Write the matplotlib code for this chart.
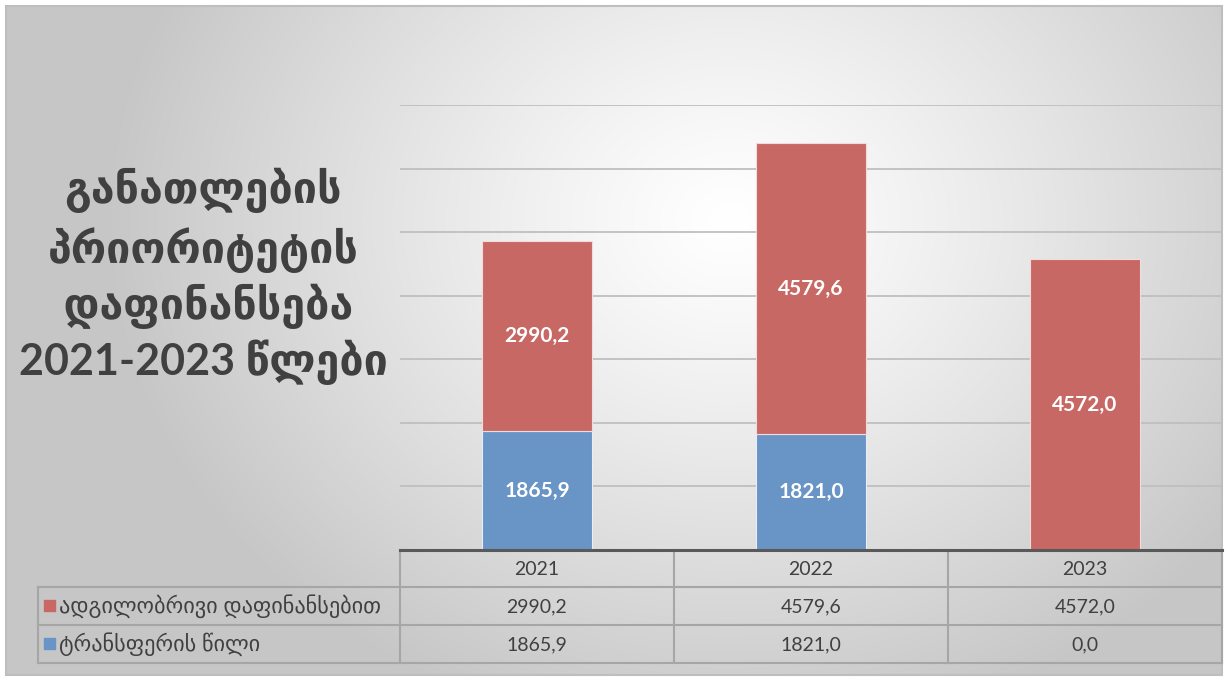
import numpy as np
import matplotlib
matplotlib.use("Agg")
import matplotlib.pyplot as plt
from matplotlib.patches import Rectangle

# ---- data ----
years = ["2021", "2022", "2023"]
local_funding = [2990.2, 4579.6, 4572.0]
transfer_share = [1865.9, 1821.0, 0.0]
series_names = ["ადგილობრივი დაფინანსებით", "ტრანსფერის წილი"]
title_lines = ["განათლების", "პრიორიტეტის", " დაფინანსება", "2021-2023 წლები"]

RED = "#C86864"
BLUE = "#6894C6"
TXT = "#404040"
FONT = ["Lato", "DejaVu Sans"]

def fmt(v):
    return f"{v:.1f}".replace(".", ",")

W, H = 1226, 679
fig = plt.figure(figsize=(W / 100, H / 100), dpi=100)
fig.patch.set_facecolor("white")

# background axes in pixel coordinates
bg = fig.add_axes([0, 0, 1, 1])
bg.set_xlim(0, W)
bg.set_ylim(H, 0)
bg.axis("off")

x0, x1, y0, y1 = 6, 1222, 6, 675
xx, yy = np.meshgrid(np.linspace(x0, x1, 600), np.linspace(y0, y1, 340))
cx, cy = 730, 220
d = np.sqrt(((xx - cx) / 620) ** 2 + ((yy - cy) / 520) ** 2)
val = 1.0 - 0.22 * np.clip(d, 0, 1) ** 1.2
img = np.dstack([val, val, val])
bg.imshow(img, extent=[x0, x1, y1, y0], aspect="auto", zorder=0, interpolation="bilinear")
bg.add_patch(Rectangle((x0, y0), x1 - x0, y1 - y0, fill=False, ec="#BEBEBE", lw=1.5, zorder=1))

# title
title_x = 203
title_ys = [190, 250, 306, 362]
for line, ty in zip(title_lines, title_ys):
    bg.text(title_x, ty, line, ha="center", va="center", fontsize=31, fontweight="bold",
            color=TXT, family=FONT, zorder=3)

# table geometry (pixels)
col_edges = [400, 674, 948, 1222]
label_left = 38
row_edges = [550, 587, 625, 663]
lc = "#A6A6A6"
for xe in col_edges:
    bg.plot([xe, xe], [row_edges[0], row_edges[-1]], color=lc, lw=1.5, zorder=2)
bg.plot([label_left, label_left], [row_edges[1], row_edges[-1]], color=lc, lw=1.5, zorder=2)
for ye in row_edges[1:]:
    bg.plot([label_left, col_edges[-1]], [ye, ye], color=lc, lw=1.5, zorder=2)

centers = [(col_edges[i] + col_edges[i + 1]) / 2 for i in range(3)]
row_mid = [(row_edges[i] + row_edges[i + 1]) / 2 for i in range(3)]
for c, yr in zip(centers, years):
    bg.text(c, row_mid[0] + 1, yr, ha="center", va="center", fontsize=14, color=TXT, family=FONT, zorder=3)
for c, v in zip(centers, local_funding):
    bg.text(c, row_mid[1] + 1, fmt(v), ha="center", va="center", fontsize=14, color=TXT, family=FONT, zorder=3)
for c, v in zip(centers, transfer_share):
    bg.text(c, row_mid[2] + 1, fmt(v), ha="center", va="center", fontsize=14, color=TXT, family=FONT, zorder=3)

for name, col, ym in zip(series_names, [RED, BLUE], row_mid[1:]):
    bg.add_patch(Rectangle((44, ym - 6), 11, 11, color=col, zorder=3))
    bg.text(59, ym, name, ha="left", va="center", fontsize=16, color=TXT, family=FONT, zorder=3)

# main chart axes
ax = fig.add_axes([400 / W, (H - 550) / H, 822 / W, 445 / H])
ax.patch.set_alpha(0)
x = np.arange(len(years))
ax.bar(x, transfer_share, width=0.4, color=BLUE, edgecolor="#E8EEF6", lw=0.8, zorder=2)
ax.bar(x, local_funding, width=0.4, bottom=transfer_share, color=RED, edgecolor="#F2DCDB", lw=0.8, zorder=2)
ax.set_xlim(-0.5, 2.5)
ax.set_ylim(0, 7000)
ax.set_yticks(np.arange(1000, 7001, 1000))
ax.yaxis.grid(True, color="#BFBFBF", lw=1.3, zorder=0)
ax.set_axisbelow(True)
ax.tick_params(left=False, bottom=False, labelleft=False, labelbottom=False)
for s in ["top", "left", "right"]:
    ax.spines[s].set_visible(False)
ax.spines["bottom"].set_color("#595959")
ax.spines["bottom"].set_linewidth(2.2)

for xi, t, l in zip(x, transfer_share, local_funding):
    if t > 0:
        ax.text(xi, t / 2, fmt(t), ha="center", va="center", color="white", fontsize=15,
                fontweight="bold", family=FONT, zorder=4)
    if l > 0:
        ax.text(xi, t + l / 2, fmt(l), ha="center", va="center", color="white", fontsize=15,
                fontweight="bold", family=FONT, zorder=4)

fig.savefig("out.png", dpi=100)
